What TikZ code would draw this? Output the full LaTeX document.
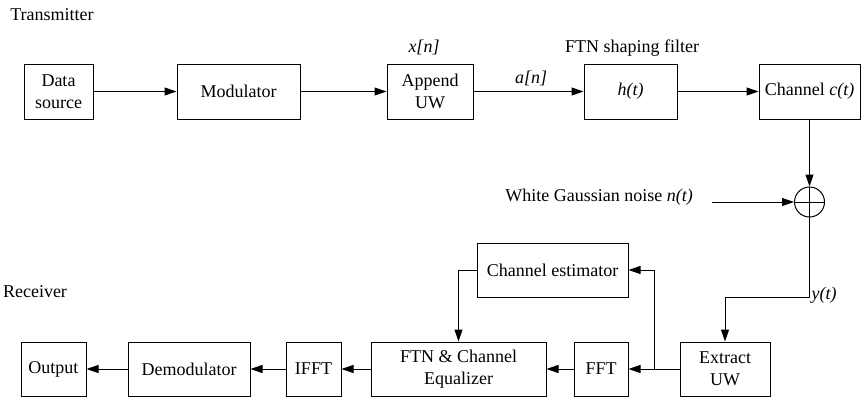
\documentclass[tikz,border=0pt]{standalone}
\usepackage{fontspec}
\setmainfont{Liberation Serif}
\usetikzlibrary{arrows.meta}
\begin{document}
\begin{tikzpicture}[x=1pt,y=-1pt,
  font=\fontsize{18}{22}\selectfont,
  blk/.style={draw, line width=1pt, inner sep=0pt, align=center},
  flow/.style={line width=1pt, -{Triangle[length=12pt,width=8pt]}},
  plain/.style={line width=1pt},
  lbl/.style={inner sep=0pt}]
\useasboundingbox (0,0) rectangle (861,399);

% Transmitter chain
\node[lbl] (ttx) at (52,15) {Transmitter};
\node[blk, minimum width=69pt, minimum height=55pt] (src) at (58.5,91.5) {Data\\source};
\node[blk, minimum width=123pt, minimum height=55pt] (mod) at (238.5,91.5) {Modulator};
\node[blk, minimum width=86pt, minimum height=55pt] (app) at (430,91.5) {Append\\UW};
\node[blk, minimum width=93pt, minimum height=55pt] (ftn) at (630.5,91.5) {\textit{h(t)}};
\node[blk, minimum width=101pt, minimum height=55pt] (chn) at (809.5,91.5) {Channel \textit{c(t)}};
\node[lbl] (xn) at (424,47) {\textit{x[n]}};
\node[lbl] (an) at (531,78) {\textit{a[n]}};
\node[lbl] (ftnl) at (632,48) {FTN shaping filter};

\draw[flow] (src) -- (mod);
\draw[flow] (mod) -- (app);
\draw[flow] (app) -- (ftn);
\draw[flow] (ftn) -- (chn);

% Noise adder
\node[draw, circle, line width=1pt, minimum size=30pt, inner sep=0pt] (sum) at (809.5,202) {};
\draw[plain] (sum.north) -- (sum.south) (sum.west) -- (sum.east);
\draw[flow] (chn.south) -- (sum.north);
\node[lbl, anchor=east] (noise) at (693,197) {White Gaussian noise \textit{n(t)}};
\coordinate (nin) at (712,202);
\draw[flow] (nin) -- (sum.west);

% Receiver chain
\node[lbl] (trx) at (35,292) {Receiver};
\node[blk, minimum width=90pt, minimum height=54pt] (ext) at (725,369) {Extract\\UW};
\node[blk, minimum width=54pt, minimum height=54pt] (fft) at (601,369) {FFT};
\node[blk, minimum width=175pt, minimum height=54pt] (eq) at (458.5,369) {FTN \& Channel\\Equalizer};
\node[blk, minimum width=151pt, minimum height=54pt] (est) at (552.5,270) {Channel estimator};
\node[blk, minimum width=55pt, minimum height=54pt] (ifft) at (313.5,369) {IFFT};
\node[blk, minimum width=122pt, minimum height=54pt] (dem) at (189,369) {Demodulator};
\node[blk, minimum width=65pt, minimum height=54pt] (out) at (53.5,369) {Output};

\draw[flow] (sum.south) |- (ext.north |- 0,297) -- (ext.north);
\node[lbl] (yt) at (824,295) {\textit{y(t)}};

\coordinate (br) at (654,369);
\draw[flow] (ext.west) -- (fft.east);
\draw[flow] (br) |- (est.east);
\draw[flow] (est.west) -| (eq.north);
\draw[flow] (fft.west) -- (eq.east);
\draw[flow] (eq.west) -- (ifft.east);
\draw[flow] (ifft.west) -- (dem.east);
\draw[flow] (dem.west) -- (out.east);
\end{tikzpicture}
\end{document}
